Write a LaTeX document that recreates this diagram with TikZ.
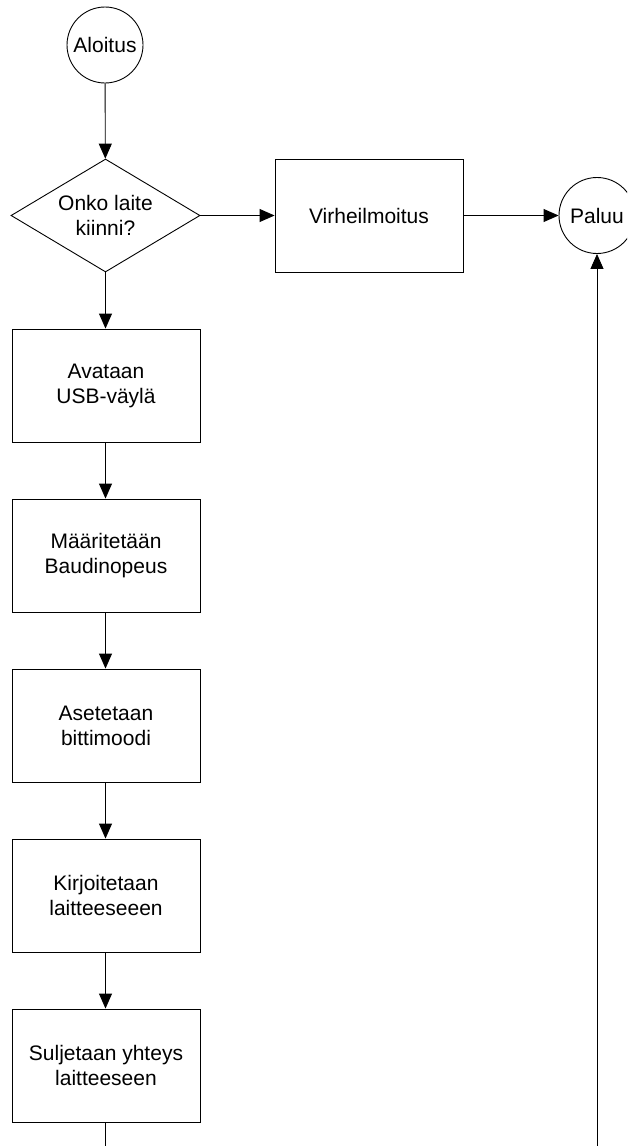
\documentclass[tikz,border=0pt]{standalone}
\usepackage{fontspec}
\setmainfont{Liberation Sans}
\usetikzlibrary{shapes.geometric,arrows.meta}
\begin{document}
\begin{tikzpicture}[x=1pt,y=-1pt,line width=0.9pt,
  every node/.style={font=\fontsize{21}{25}\selectfont, align=center, inner sep=0pt},
  terminal/.style={draw, circle, minimum size=76pt},
  stepbox/.style={draw, rectangle, minimum width=188pt, minimum height=113pt},
  decision/.style={draw, diamond, aspect=1.67, minimum width=189pt, minimum height=113pt},
  flow/.style={-{Triangle[length=15pt,width=13pt]}}]
\useasboundingbox (0,0) rectangle (627,1146);
\clip (0,0) rectangle (627,1146);

% start, decision and error branch
\node[terminal] (start) at (105,45) {Aloitus};
\node[decision] (check) at (105.5,215.5) {Onko laite\\kiinni?};
\node[stepbox] (error) at (369,215.5) {Virheilmoitus};
\node[terminal] (ret) at (597,215.5) {Paluu};

% main sequence
\node[stepbox] (open)  at (106,385.5)  {Avataan\\USB-väylä};
\node[stepbox] (baud)  at (106,555.5)  {Määritetään\\Baudinopeus};
\node[stepbox] (mode)  at (106,725.5)  {Asetetaan\\bittimoodi};
\node[stepbox] (write) at (106,895.5)  {Kirjoitetaan\\laitteeseeen};
\node[stepbox] (close) at (106,1065.5) {Suljetaan yhteys\\laitteeseen};

\coordinate (down) at (105,1146);
\coordinate (up) at (597,1146);

% connectors
\draw[flow] (start) -- (check);
\draw[flow] (check) -- (error);
\draw[flow] (error) -- (ret);
\draw[flow] (check.south) -- (check.south |- open.north);
\draw[flow] (open.south -| check.south) -- (check.south |- baud.north);
\draw[flow] (baud.south -| check.south) -- (check.south |- mode.north);
\draw[flow] (mode.south -| check.south) -- (check.south |- write.north);
\draw[flow] (write.south -| check.south) -- (check.south |- close.north);
\draw (close.south -| down) -- (down);
\draw[flow] (up) -- (ret.south);
\end{tikzpicture}
\end{document}
